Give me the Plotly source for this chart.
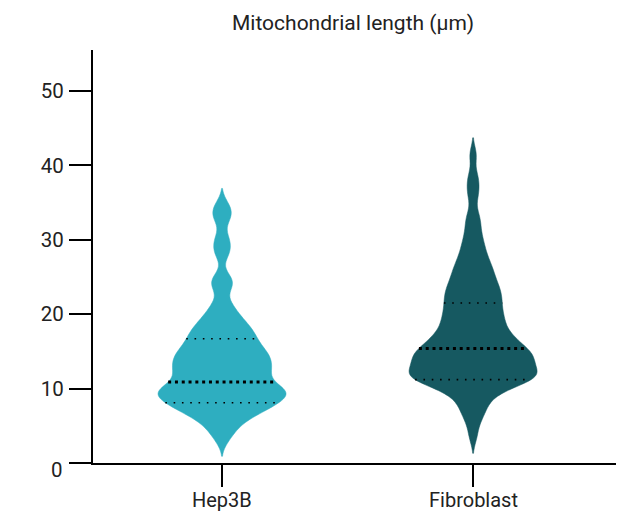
import numpy as np
import plotly.graph_objects as go

# mitochondrial lengths (um)
groups = ["Hep3B", "Fibroblast"]
hep3b = [3.0, 3.9, 4.5, 5.0, 5.4, 5.8, 6.1, 6.4, 6.6, 6.8, 7.0,
         7.2, 7.3, 7.5, 7.6, 7.8, 7.9, 8.1, 8.2, 8.3, 8.5, 8.6, 8.7, 8.8, 9.0, 9.1, 9.2, 9.3,
         9.4, 9.5, 9.6, 9.7, 9.8, 9.9, 10.0, 10.1, 10.2, 10.4, 10.5, 10.7,
         10.9, 11.1, 11.3, 11.4, 11.6, 11.8, 12.0, 12.1, 12.2, 12.4, 12.6, 12.8, 12.9,
         13.0, 13.2, 13.4, 13.5, 13.6, 13.8, 14.0, 14.2, 14.3, 14.5, 14.7, 14.8, 14.9, 15.1,
         15.3, 15.5, 15.6, 15.9, 16.2, 16.4, 16.5,
         16.8, 17.1, 17.2, 17.4, 17.7, 18.0, 18.3, 18.5,
         18.7, 19.1, 19.5, 19.9,
         20.4, 21.0, 21.7,
         23.4, 24.0, 24.5, 25.1,
         27.9, 28.7, 29.6, 30.5,
         32.6, 33.3, 34.0, 34.8]
fibroblast = [3.6, 5.4, 6.4,
              7.1, 7.6, 8.4, 8.7, 9.3, 9.6,
              9.9, 10.2, 10.4, 10.6, 10.8, 11.0, 11.1, 11.2, 11.3, 11.4, 11.5,
              11.6, 11.7, 11.8, 11.9, 12.0, 12.2, 12.3, 12.5, 12.6, 12.7, 12.9, 13.1, 13.2,
              13.3, 13.5, 13.7, 13.8, 13.9, 14.1, 14.3, 14.4, 14.5, 14.6, 14.7, 14.9, 15.0, 15.1,
              15.2, 15.4, 15.6, 15.8, 16.0, 16.2, 16.4, 16.6, 16.8,
              17.0, 17.1, 17.3, 17.6, 17.9, 18.2, 18.5, 18.8, 19.0, 19.2,
              19.5, 19.8, 20.1, 20.4, 20.7, 21.0, 21.3, 21.6,
              21.9, 22.2, 22.5, 22.8, 23.1, 23.4, 23.7,
              24.0, 24.4, 24.8, 25.2, 25.6, 26.0, 26.4, 26.9, 27.4,
              28.0, 28.7, 29.4, 30.2, 31.2,
              32.4, 33.4, 35.8, 37.2, 38.6, 41.4]
data = [hep3b, fibroblast]
# quartile lines (25th, median, 75th) as drawn in the picture
quartiles = [[8.1, 10.9, 16.7], [11.2, 15.4, 21.5]]
colors = ["#2EAEC0", "#165961"]
bws = [1.05, 1.15]
yticks = [0, 10, 20, 30, 40, 50]

VW = 0.51  # full violin width in x units
FONT = "Roboto"
TXT = "#222222"

fig = go.Figure()

for i, (vals, col, bw) in enumerate(zip(data, colors, bws)):
    fig.add_trace(go.Violin(
        x=[i] * len(vals), y=vals, bandwidth=bw, spanmode="soft",
        fillcolor=col, line=dict(color=col, width=0.5), opacity=1,
        points=False, width=VW, scalemode="width", hoverinfo="skip",
        showlegend=False))

    # dotted quartile lines, width from the same gaussian kde the violin uses
    v = np.array(vals)
    grid = np.linspace(v.min() - 2 * bw, v.max() + 2 * bw, 800)
    kde = lambda t: np.exp(-0.5 * ((t[:, None] - v[None, :]) / bw) ** 2).sum(axis=1)
    kmax = kde(grid).max()
    for j, q in enumerate(quartiles[i]):
        hw = kde(np.array([q]))[0] / kmax * VW / 2
        if j == 1:
            ln = dict(color="black", width=3, dash="3px,3.8px")
        else:
            ln = dict(color="black", width=1.6, dash="1.6px,6.7px")
        fig.add_shape(type="line", x0=i - hw, x1=i + hw, y0=q, y1=q,
                      xref="x", yref="y", line=ln, layer="above")

    # category label under its tick
    fig.add_annotation(x=i, xref="x", y=0, yref="paper", yanchor="middle",
                       yshift=-37, text=groups[i], showarrow=False,
                       font=dict(family=FONT, size=20, color=TXT))

# zero label sits a bit lower than its tick
fig.add_annotation(x=0, xref="paper", xanchor="right", xshift=-28,
                   y=0, yref="y", yshift=-7, text="0", showarrow=False,
                   font=dict(family=FONT, size=20.5, color=TXT))

# page body adds 8px offset, margins are set to land the axes where the picture has them
fig.update_layout(
    width=624, height=512,
    margin=dict(l=85, r=0, t=42, b=57),
    paper_bgcolor="white", plot_bgcolor="white",
    title=dict(text="Mitochondrial length (μm)", x=0.553, xref="container",
               xanchor="center", y=0.972, yref="container", yanchor="middle",
               font=dict(family=FONT, size=21, color=TXT)),
    font=dict(family=FONT, size=20.5, color=TXT),
)
fig.update_xaxes(range=[-0.514, 1.633], tickvals=[0, 1], showticklabels=False,
                 showline=True, linecolor="black", linewidth=2,
                 ticks="outside", ticklen=22, tickwidth=2, tickcolor="black",
                 showgrid=False, zeroline=False, automargin=False)
fig.update_yaxes(range=[0, 55.5], tickvals=yticks,
                 ticktext=["" if t == 0 else str(t) for t in yticks],
                 showline=True, linecolor="black", linewidth=2,
                 ticks="outside", ticklen=22, tickwidth=2, tickcolor="black",
                 showgrid=False, zeroline=False, automargin=False,
                 ticklabelstandoff=1)

fig.write_html("out.html")
